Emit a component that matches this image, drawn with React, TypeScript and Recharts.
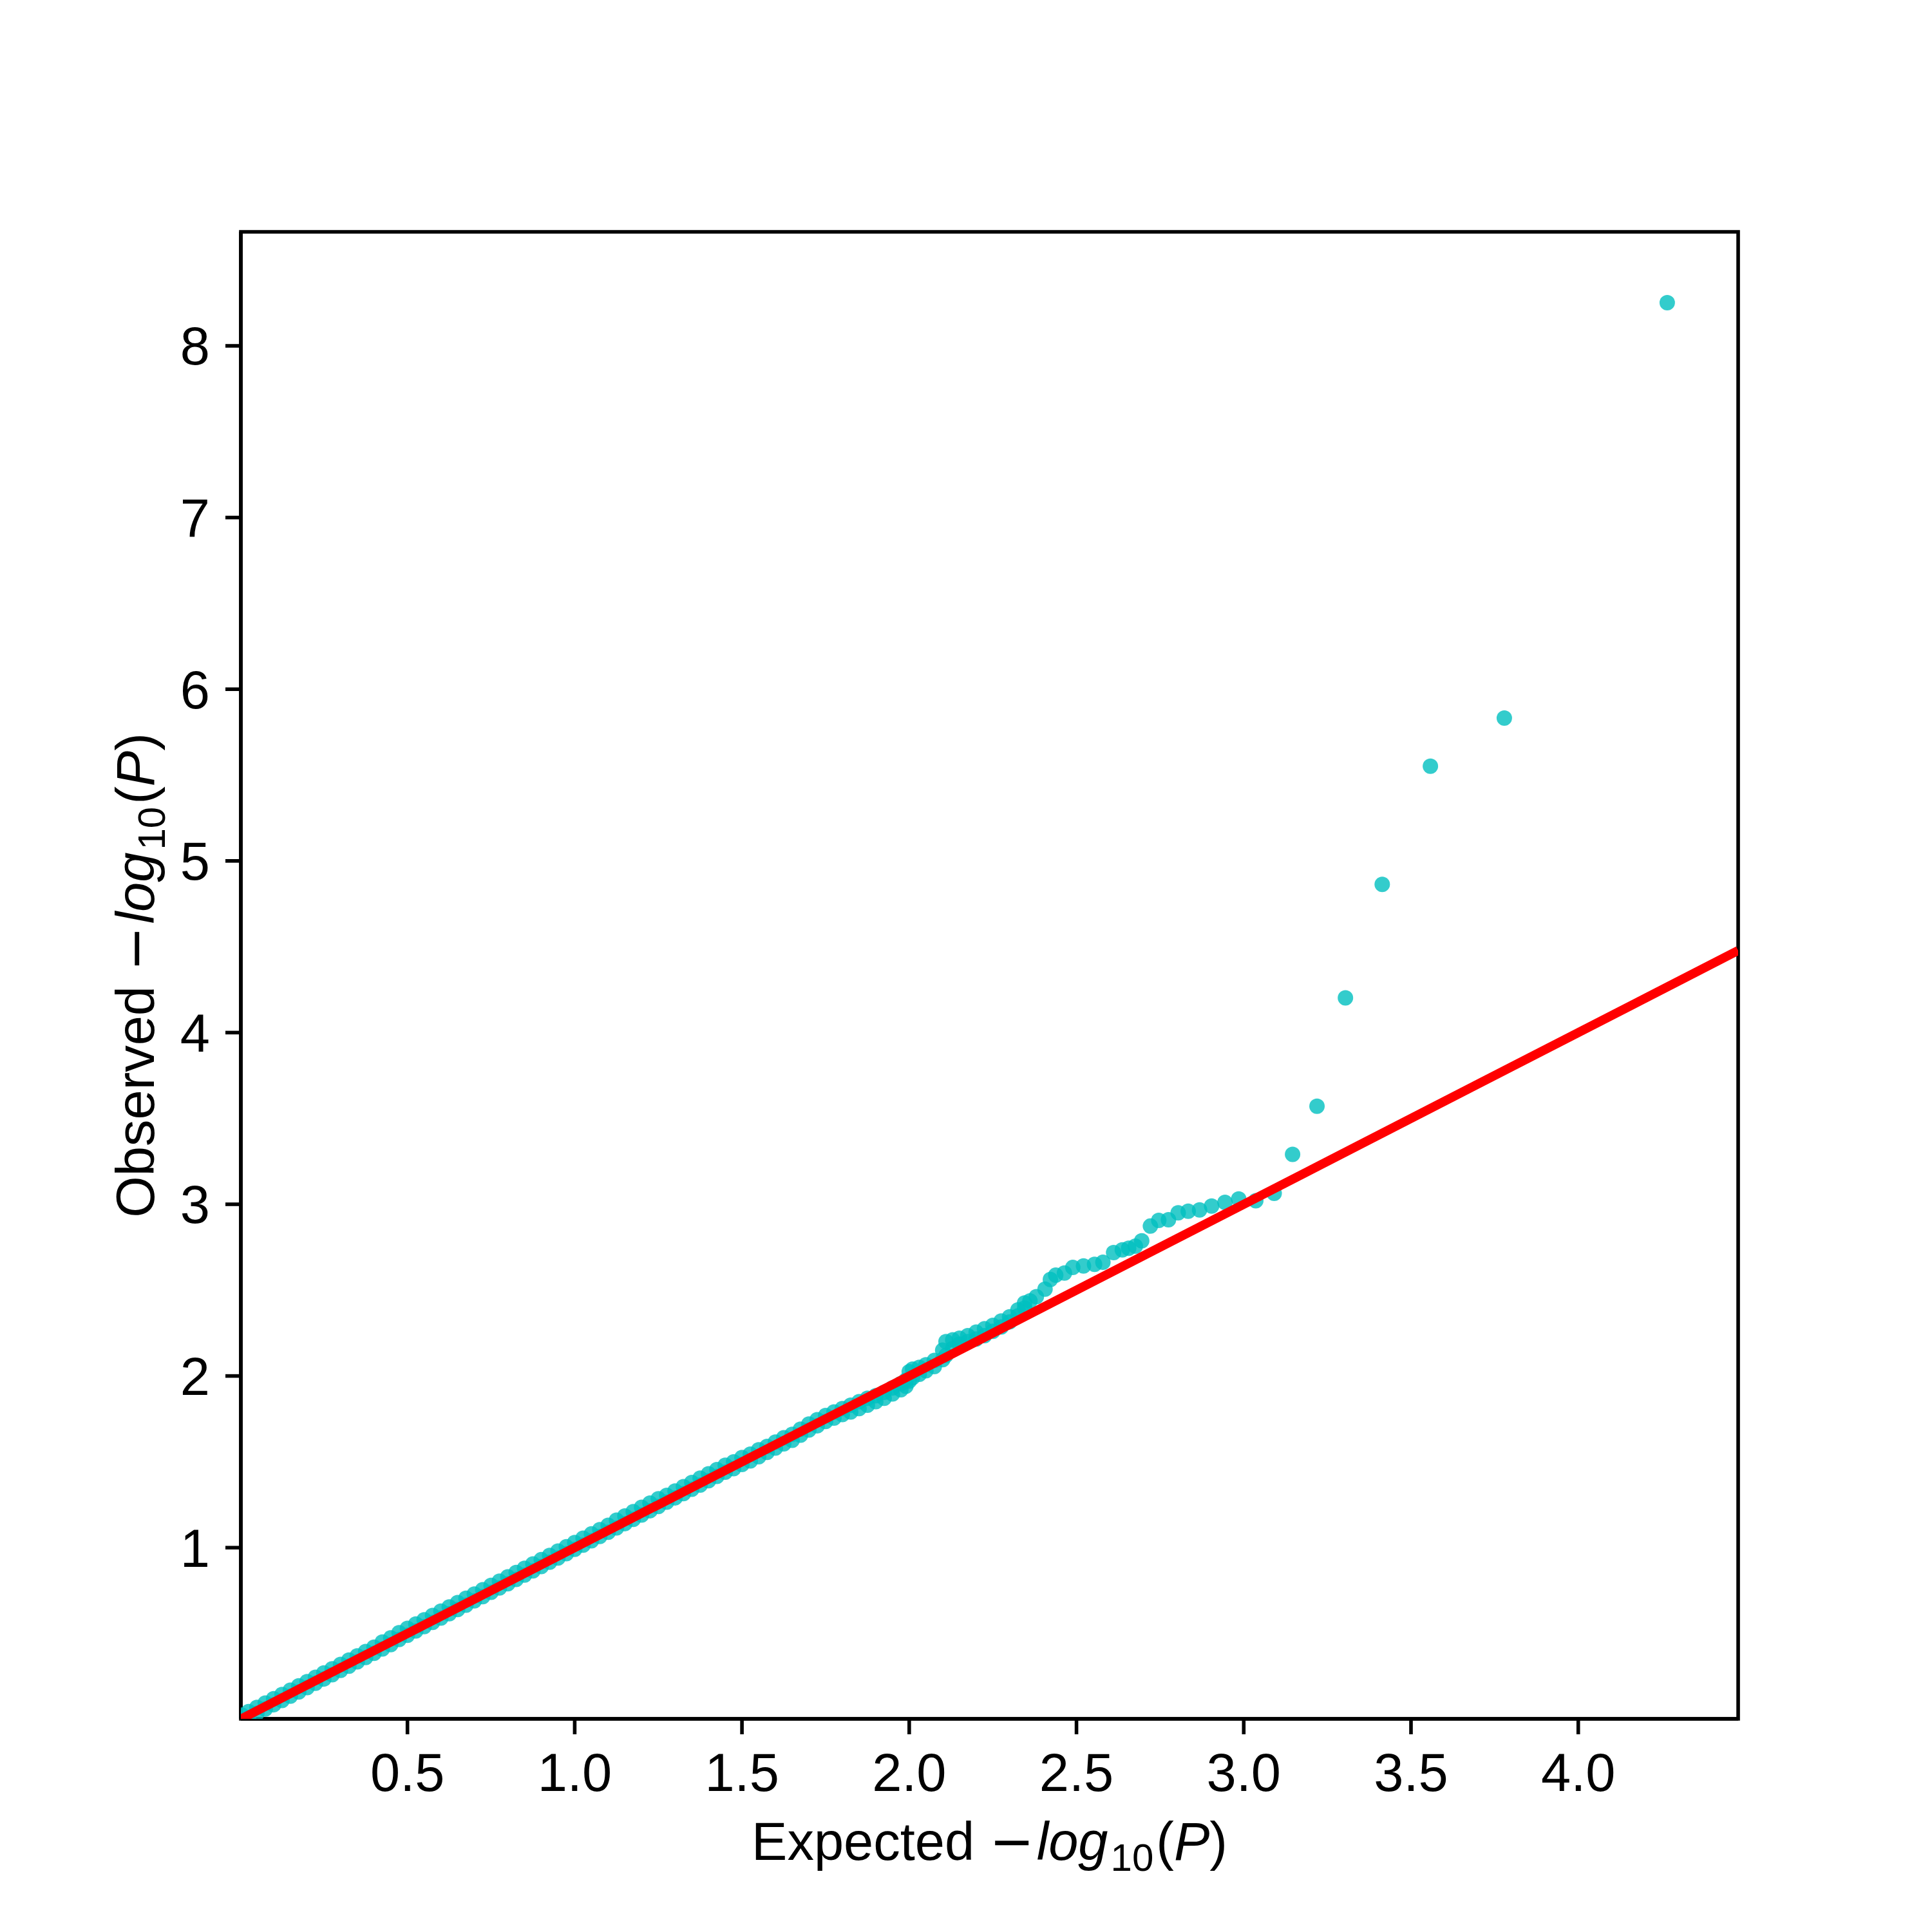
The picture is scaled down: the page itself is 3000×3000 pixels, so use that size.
import React from "react";
import {
  ScatterChart,
  Scatter,
  XAxis,
  YAxis,
  ReferenceArea,
} from "recharts";

// dense band along the diagonal (expected vs observed -log10 P)
const expectedBand = [
  0.005, 0.025, 0.05, 0.075, 0.1, 0.125, 0.15, 0.175, 0.2, 0.225, 0.25, 0.275,
  0.3, 0.325, 0.35, 0.375, 0.4, 0.425, 0.45, 0.475, 0.5, 0.525, 0.55, 0.575,
  0.6, 0.625, 0.65, 0.675, 0.7, 0.725, 0.75, 0.775, 0.8, 0.825, 0.85, 0.875,
  0.9, 0.925, 0.95, 0.975, 1.0, 1.025, 1.05, 1.075, 1.1, 1.125, 1.15, 1.175,
  1.2, 1.225, 1.25, 1.275, 1.3, 1.325, 1.35, 1.375, 1.4, 1.425, 1.45, 1.475,
  1.5, 1.525, 1.55, 1.575, 1.6, 1.625, 1.65, 1.675, 1.7, 1.725, 1.75, 1.775,
  1.8, 1.825, 1.85, 1.875, 1.9, 1.925, 1.95, 1.975, 1.99, 2.0, 2.01, 2.03,
  2.05, 2.075, 2.1, 2.11, 2.13, 2.15, 2.175, 2.2, 2.225, 2.25, 2.275, 2.3,
  2.325, 2.345,
];
// upper edge of the band
const observedBandHigh = [
  0.025, 0.045, 0.07, 0.095, 0.12, 0.145, 0.17, 0.195, 0.22, 0.245, 0.27, 0.295,
  0.32, 0.345, 0.37, 0.395, 0.42, 0.45, 0.475, 0.505, 0.53, 0.555, 0.58, 0.605,
  0.63, 0.655, 0.68, 0.705, 0.73, 0.755, 0.78, 0.805, 0.83, 0.855, 0.88, 0.905,
  0.93, 0.955, 0.98, 1.005, 1.03, 1.055, 1.08, 1.105, 1.13, 1.16, 1.185, 1.21,
  1.235, 1.26, 1.285, 1.305, 1.33, 1.355, 1.38, 1.405, 1.43, 1.455, 1.48, 1.5,
  1.525, 1.545, 1.57, 1.59, 1.615, 1.64, 1.66, 1.69, 1.72, 1.745, 1.77, 1.79,
  1.81, 1.83, 1.85, 1.87, 1.885, 1.905, 1.93, 1.955, 1.975, 2.025, 2.04, 2.05,
  2.065, 2.09, 2.15, 2.2, 2.21, 2.22, 2.235, 2.255, 2.275, 2.295, 2.32, 2.345,
  2.385, 2.425,
];
// lower edge of the band
const observedBandLow = [
  -0.01, 0.01, 0.035, 0.06, 0.085, 0.11, 0.135, 0.16, 0.185, 0.21, 0.235, 0.26,
  0.285, 0.31, 0.335, 0.36, 0.385, 0.41, 0.435, 0.465, 0.49, 0.515, 0.54, 0.565,
  0.59, 0.615, 0.64, 0.665, 0.69, 0.715, 0.74, 0.765, 0.79, 0.815, 0.84, 0.865,
  0.89, 0.915, 0.94, 0.965, 0.99, 1.015, 1.04, 1.065, 1.09, 1.115, 1.14, 1.165,
  1.19, 1.215, 1.24, 1.265, 1.29, 1.315, 1.34, 1.365, 1.39, 1.415, 1.44, 1.46,
  1.485, 1.505, 1.53, 1.555, 1.58, 1.605, 1.625, 1.655, 1.685, 1.71, 1.735, 1.755,
  1.775, 1.79, 1.81, 1.83, 1.85, 1.87, 1.895, 1.92, 1.94, 1.97, 1.99, 2.01,
  2.03, 2.055, 2.095, 2.12, 2.16, 2.185, 2.2, 2.215, 2.235, 2.26, 2.285, 2.315,
  2.35, 2.395,
];

// sparse upper tail
const expectedTail = [
  2.361, 2.38, 2.406, 2.422, 2.438, 2.464, 2.489, 2.521, 2.554, 2.579, 2.611,
  2.637, 2.656, 2.676, 2.695, 2.721, 2.746, 2.775, 2.804, 2.834, 2.868, 2.904,
  2.944, 2.985, 3.036, 3.091, 3.146, 3.219, 3.304, 3.414, 3.558, 3.779, 4.266,
];
const observedTail = [
  2.437, 2.462, 2.506, 2.562, 2.587, 2.6, 2.632, 2.641, 2.65, 2.662, 2.719,
  2.735, 2.744, 2.756, 2.787, 2.873, 2.906, 2.91, 2.95, 2.96, 2.967, 2.99,
  3.011, 3.031, 3.021, 3.064, 3.291, 3.571, 4.202, 4.863, 5.552, 5.832, 8.251,
];

const xDomain = [0.002, 4.478];
const yDomain = [0.003, 8.664];
const xTicks = [0.5, 1.0, 1.5, 2.0, 2.5, 3.0, 3.5, 4.0];
const yTicks = [1, 2, 3, 4, 5, 6, 7, 8];
// y = x reference
const diagonal = [
  { x: 0, y: 0 },
  { x: 4.478, y: 4.478 },
];

const points = [
  ...expectedBand.map((x, i) => ({ x, y: observedBandLow[i] })),
  ...expectedBand.map((x, i) => ({ x, y: observedBandHigh[i] })),
  ...expectedTail.map((x, i) => ({ x, y: observedTail[i] })),
];

const FONT = "'Liberation Sans', Arial, sans-serif";
const FS = 83;
const LW = 5.6;

const Dot = (p: any) => (
  <circle cx={p.cx} cy={p.cy} r={12} fill="#00BFBF" fillOpacity={0.8} />
);

const AxisTitle = ({ x, y, rotate }: { x: number; y: number; rotate?: boolean }) => (
  <text
    x={x}
    y={y}
    textAnchor="middle"
    fontSize={FS}
    fontFamily={FONT}
    fill="#000"
    transform={rotate ? `rotate(-90, ${x}, ${y})` : undefined}
  >
    <tspan>{rotate ? "Observed " : "Expected "}</tspan>
    <tspan fontFamily="'DejaVu Sans', sans-serif">{"\u2212"}</tspan>
    <tspan fontStyle="italic" dx={4}>log</tspan>
    <tspan fontSize={60} dy={17} dx={4}>10</tspan>
    <tspan dy={-17} dx={4}>(</tspan>
    <tspan fontStyle="italic">P</tspan>
    <tspan>)</tspan>
  </text>
);

export default function App() {
  return (
    <div
      style={{
        position: "absolute",
        left: 0,
        top: 0,
        width: 3000,
        height: 3000,
        background: "#fff",
        fontFamily: FONT,
      }}
    >
      <ScatterChart
        width={3000}
        height={3000}
        margin={{ top: 360, right: 301, bottom: 0, left: 0 }}
      >
        <XAxis
          type="number"
          dataKey="x"
          domain={xDomain}
          ticks={xTicks}
          allowDataOverflow
          height={331}
          tickSize={24}
          tickMargin={29}
          tickFormatter={(v: number) => v.toFixed(1)}
          tick={{ fill: "#000", fontSize: FS, fontFamily: FONT }}
          tickLine={{ stroke: "#000", strokeWidth: LW }}
          axisLine={{ stroke: "#000", strokeWidth: LW }}
          label={{
            content: (p: any) => (
              <AxisTitle
                x={p.viewBox.x + p.viewBox.width / 2}
                y={p.viewBox.y + 219}
              />
            ),
          }}
        />
        <YAxis
          type="number"
          dataKey="y"
          domain={yDomain}
          ticks={yTicks}
          allowDataOverflow
          width={374}
          tickSize={24}
          tickMargin={24}
          tick={{ fill: "#000", fontSize: FS, fontFamily: FONT }}
          tickLine={{ stroke: "#000", strokeWidth: LW }}
          axisLine={{ stroke: "#000", strokeWidth: LW }}
          label={{
            content: (p: any) => (
              <AxisTitle
                x={p.viewBox.x + 239}
                y={p.viewBox.y + p.viewBox.height / 2}
                rotate
              />
            ),
          }}
        />
        <Scatter data={points} shape={Dot} isAnimationActive={false} />
        <Scatter
          data={diagonal}
          line={{ stroke: "#FF0000", strokeWidth: 14 }}
          shape={() => null}
          isAnimationActive={false}
        />
        <ReferenceArea
          x1={xDomain[0]}
          x2={xDomain[1]}
          y1={yDomain[0]}
          y2={yDomain[1]}
          fill="none"
          stroke="#000"
          strokeWidth={LW}
          ifOverflow="visible"
        />
      </ScatterChart>
    </div>
  );
}
